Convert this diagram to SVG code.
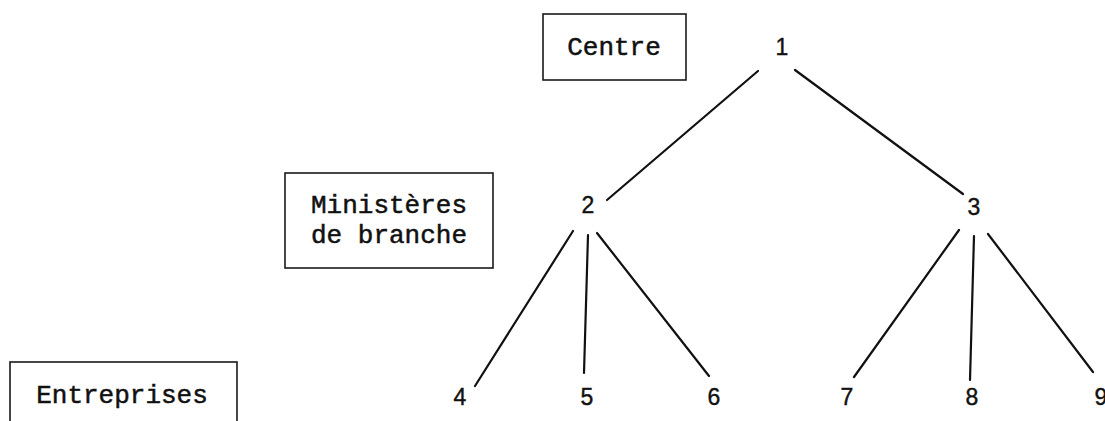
<svg xmlns="http://www.w3.org/2000/svg" width="1105" height="421" viewBox="0 0 1105 421">
<style>
.box{fill:none;stroke:#1a1a1a;stroke-width:1.6}
.lbl{font-family:"Liberation Mono",monospace;font-size:26px;fill:#111;stroke:#111;stroke-width:0.5;text-anchor:middle}
.num{font-family:"Liberation Sans",Arial,sans-serif;font-size:23px;fill:#111;stroke:#111;stroke-width:0.4;text-anchor:middle}
.edge{stroke:#111;stroke-width:2.2;stroke-linecap:round;fill:none}
</style>
<rect width="1105" height="421" fill="#fff"/>
<g id="level-centre">
<rect class="box" x="543" y="14" width="143" height="66"/>
<text class="lbl" x="614" y="55">Centre</text>
</g>
<g id="level-ministeres">
<rect class="box" x="285" y="173" width="208" height="95"/>
<text class="lbl" x="389" y="213">Ministères</text>
<text class="lbl" x="389" y="243">de branche</text>
</g>
<g id="level-entreprises">
<rect class="box" x="10" y="362" width="227" height="80"/>
<text class="lbl" x="122" y="403">Entreprises</text>
</g>
<g id="n1"><text class="num" x="782" y="55">1</text></g>
<g id="n2"><text class="num" x="588" y="213">2</text></g>
<g id="n3"><text class="num" x="974" y="215">3</text></g>
<g id="n4"><text class="num" x="460" y="405">4</text></g>
<g id="n5"><text class="num" x="587" y="405">5</text></g>
<g id="n6"><text class="num" x="714" y="405">6</text></g>
<g id="n7"><text class="num" x="847" y="405">7</text></g>
<g id="n8"><text class="num" x="972" y="405">8</text></g>
<g id="n9"><text class="num" x="1101" y="405">9</text></g>
<g id="connectors">
<line class="edge" x1="758" y1="71" x2="607" y2="200"/>
<line class="edge" x1="795" y1="70" x2="963" y2="194"/>
<line class="edge" x1="573" y1="231" x2="475" y2="386"/>
<line class="edge" x1="588" y1="235" x2="584" y2="373"/>
<line class="edge" x1="597" y1="233" x2="709" y2="376"/>
<line class="edge" x1="959" y1="230" x2="854" y2="377"/>
<line class="edge" x1="974" y1="236" x2="970" y2="380"/>
<line class="edge" x1="988" y1="234" x2="1093" y2="372"/>
</g>
</svg>
